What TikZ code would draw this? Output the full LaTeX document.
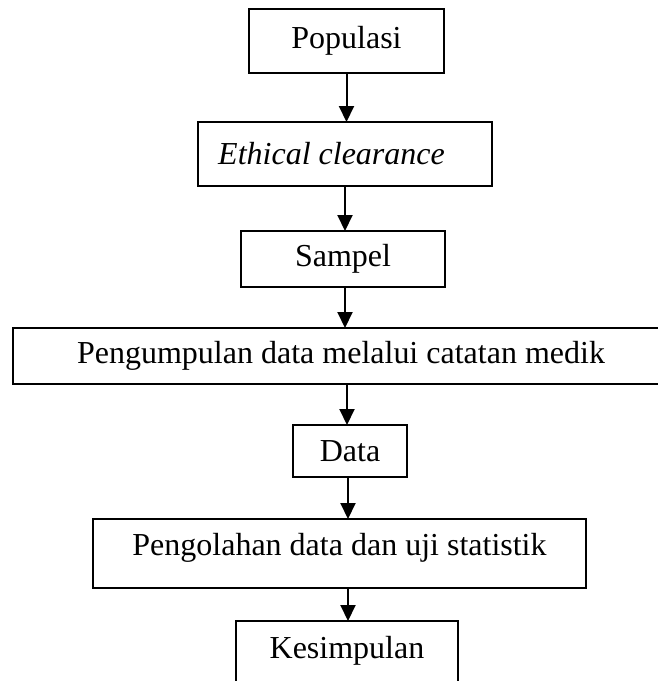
\documentclass[tikz,border=0pt]{standalone}
\usepackage{fontspec}
\setmainfont{Liberation Serif}
\usetikzlibrary{arrows.meta}
\begin{document}
\begin{tikzpicture}[x=1pt,y=1pt,
  box/.style={draw=black,line width=2pt,fill=none,inner sep=0pt,outer sep=0pt},
  lbl/.style={inner sep=0pt,font=\fontsize{32}{38}\selectfont},
  arr/.style={line width=2pt,-{Triangle[length=16pt,width=15pt]}}]
\useasboundingbox (0,0) rectangle (658,-681);
\clip (0,0) rectangle (658,-681);
% boxes (corners in pixel coordinates)
\node[box,minimum width=195,minimum height=64] (pop) at (346.5,-41) {};
\node[lbl] at (pop.center) {Populasi};
\node[box,minimum width=294,minimum height=64] (eth) at (345,-154) {};
\node[lbl,anchor=west] at (218,-154) {\itshape Ethical clearance};
\node[box,minimum width=204,minimum height=56] (sam) at (343,-259) {};
\node[lbl] at (sam.center) {Sampel};
\node[box,minimum width=660,minimum height=56] (pen) at (343,-356) {};
\node[lbl] at (341,-356) {Pengumpulan data melalui catatan medik};
\node[box,minimum width=114,minimum height=52] (dat) at (350,-451) {};
\node[lbl] at (dat.center) {Data};
\node[box,minimum width=493,minimum height=69] (olah) at (339.5,-553.5) {};
\node[lbl] at (339.5,-548) {Pengolahan data dan uji statistik};
\node[box,minimum width=222,minimum height=120] (kes) at (347,-681) {};
\node[lbl] at (347,-651) {Kesimpulan};
% connectors
\draw[arr] (pop.south) -- (pop.south |- eth.north);
\draw[arr] (eth.south) -- (eth.south |- sam.north);
\draw[arr] ([xshift=2]sam.south) -- ([xshift=2]sam.south |- pen.north);
\draw[arr] ([xshift=4]pen.south) -- ([xshift=4]pen.south |- dat.north);
\draw[arr] ([xshift=-2]dat.south) -- ([xshift=-2]dat.south |- olah.north);
\draw[arr] ([xshift=1]kes.north |- olah.south) -- ([xshift=1]kes.north);
\end{tikzpicture}
\end{document}
